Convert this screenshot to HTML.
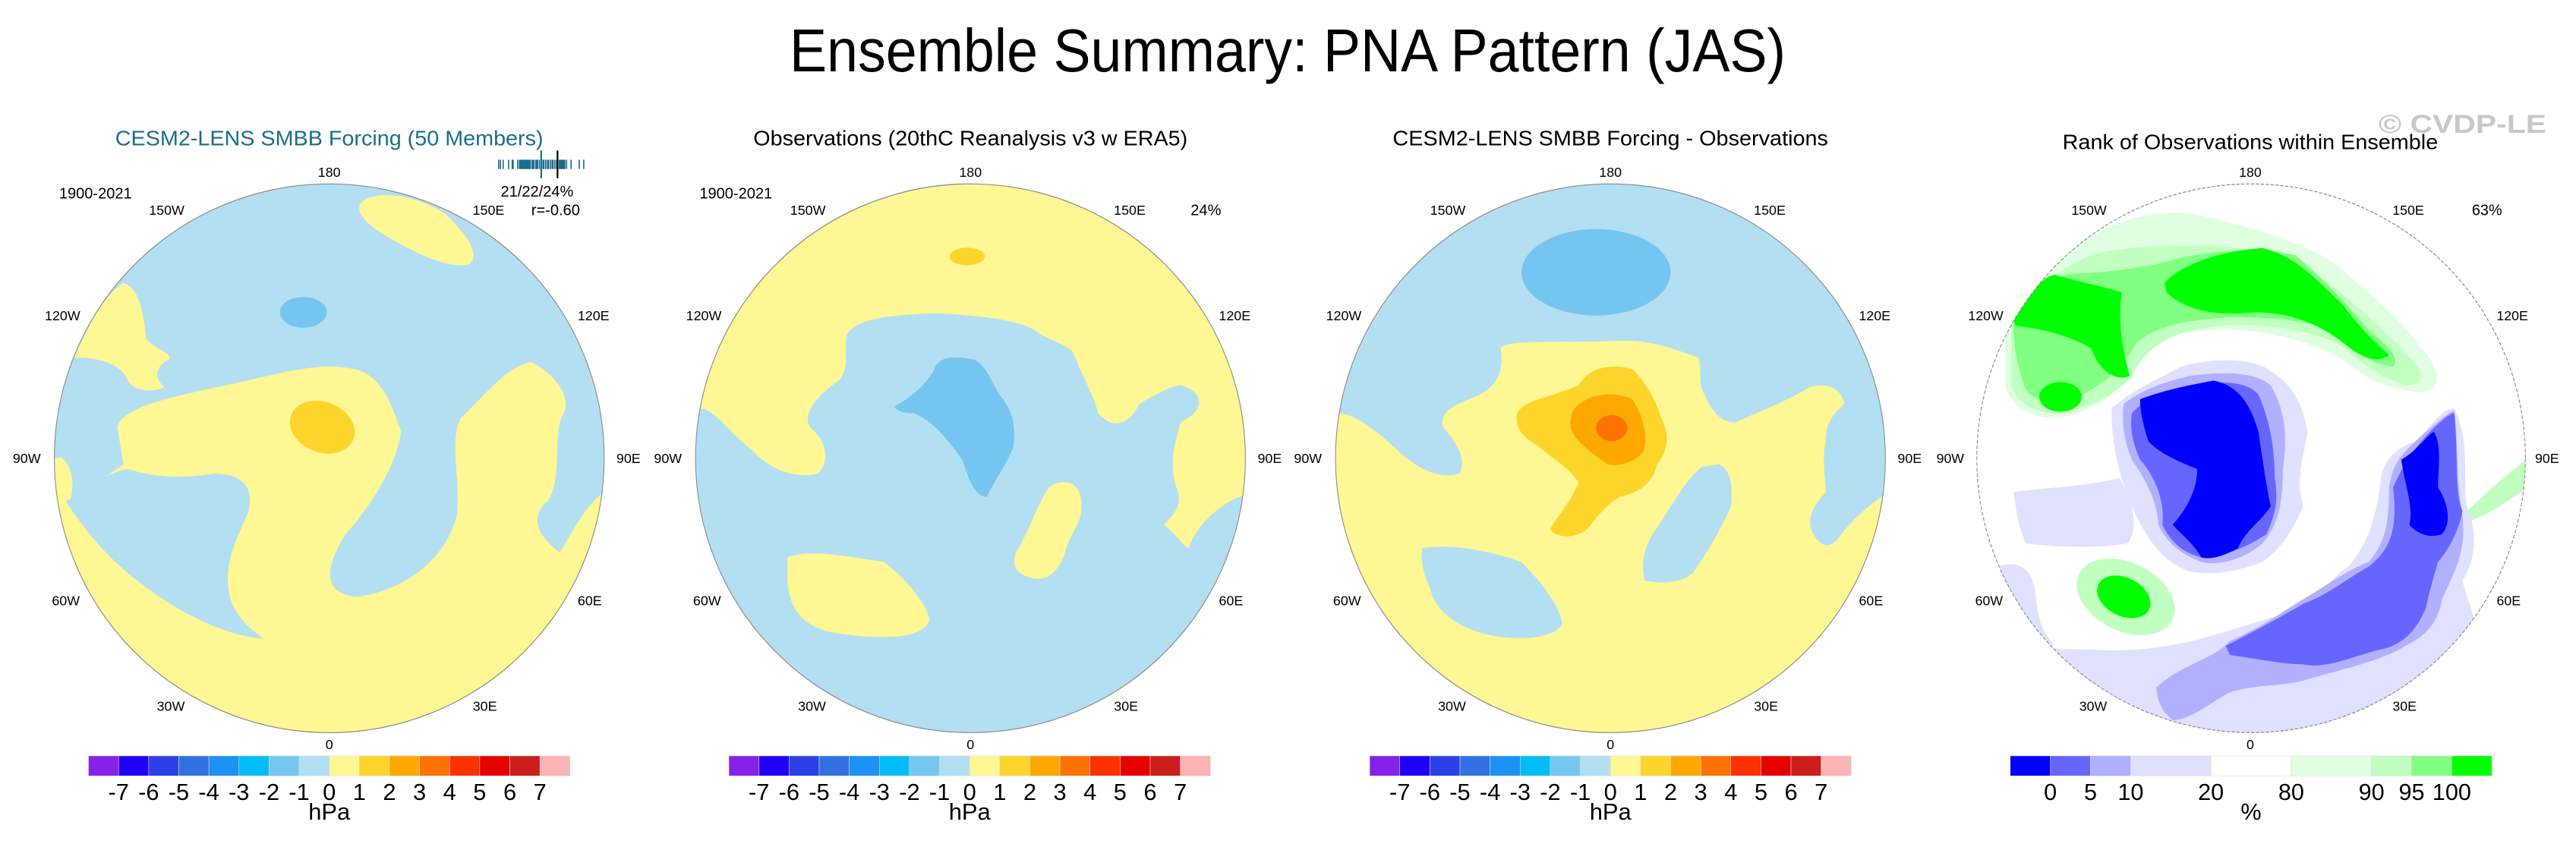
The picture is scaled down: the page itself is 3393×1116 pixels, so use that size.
<!DOCTYPE html>
<html><head><meta charset="utf-8"><style>
html,body{margin:0;padding:0;background:#fff;width:3393px;height:1116px;overflow:hidden;}
svg{display:block;font-family:"Liberation Sans",Arial,sans-serif;}
</style></head><body>
<svg id="fig" width="3393" height="1116" viewBox="0 0 3393 1116" xmlns="http://www.w3.org/2000/svg">
<text x="1696" y="94" font-size="80" text-anchor="middle" textLength="1312" lengthAdjust="spacingAndGlyphs">Ensemble Summary: PNA Pattern (JAS)</text>
<text x="3133" y="175" font-size="34" font-weight="bold" fill="#c8c8c8" textLength="221" lengthAdjust="spacingAndGlyphs">© CVDP-LE</text>
<defs>
<clipPath id="c1"><ellipse cx="800" cy="757" rx="668" ry="590"/></clipPath>
<clipPath id="c2"><ellipse cx="790" cy="757" rx="668" ry="590"/></clipPath>
<clipPath id="c3"><ellipse cx="777" cy="757" rx="668" ry="590"/></clipPath>
<clipPath id="c4"><ellipse cx="772" cy="757" rx="672" ry="590"/></clipPath>
</defs>

<!-- Panel 1 -->
<g id="p1" transform="translate(0,140) scale(0.5421,0.6127)">
 <g clip-path="url(#c1)">
  <rect x="100" y="150" width="1380" height="1220" fill="#b3dff2"/>
  <path fill="#fef793" d="M875,210 C900,180 1000,185 1080,230 C1130,270 1170,320 1140,340 C1090,350 1020,320 950,285 C890,255 865,230 875,210 Z"/>
  <path fill="#fef793" d="M180,540 C220,460 260,400 300,380 C340,390 350,450 355,500 C380,525 420,530 410,545 C380,560 370,580 400,605 C370,615 330,615 310,590 C300,560 250,540 180,540 Z"/>
  <path fill="#fef793" d="M285,690 C300,640 450,620 600,590 C700,570 780,550 860,565 C930,580 950,640 975,700 C960,780 900,860 840,920 C790,990 780,1050 870,1055 C980,1040 1080,980 1110,880 C1120,800 1090,720 1120,670 C1180,620 1230,560 1290,550 C1340,570 1390,620 1370,660 C1340,700 1370,800 1330,850 C1290,880 1300,920 1360,960 C1400,900 1430,850 1470,830 L1480,830 L1480,1360 L100,1360 L100,760 L150,755 C180,780 180,820 170,850 L300,770 Z"/>
  <path fill="#b3dff2" d="M160,850 C200,830 250,790 310,780 C380,800 450,800 520,790 C600,790 620,830 600,880 C570,940 540,990 560,1060 C580,1110 620,1130 640,1145 C560,1140 460,1100 380,1050 C280,990 220,930 160,850 Z"/>
  <ellipse cx="783" cy="690" rx="80" ry="55" transform="rotate(15 783 690)" fill="#fdd42a"/>
  <ellipse cx="737" cy="443" rx="57" ry="33" fill="#74c6f0"/>
 </g>
 <ellipse cx="800" cy="757" rx="668" ry="590" fill="none" stroke="#8a8a8a" stroke-width="2"/>
 <text x="800" y="84" font-size="51" fill="#1b6d8e" text-anchor="middle" textLength="1040" lengthAdjust="spacingAndGlyphs">CESM2-LENS SMBB Forcing (50 Members)</text>
 <text x="232" y="198" font-size="37" text-anchor="middle">1900-2021</text>
 <text x="1305" y="194" font-size="37" text-anchor="middle">21/22/24%</text>
 <text x="1350" y="234" font-size="37" text-anchor="middle">r=-0.60</text>
 <g id="strip"></g>
</g>

<!-- Panel 2 -->
<g id="p2" transform="translate(850,140) scale(0.5421,0.6127)">
 <g clip-path="url(#c2)">
  <rect x="100" y="150" width="1380" height="1220" fill="#fef793"/>
  <path fill="#b3dff2" d="M130,650 C170,650 200,700 260,740 C310,790 380,800 420,790 C450,760 440,720 400,690 C380,660 420,620 470,590 C500,560 480,520 490,490 C520,450 620,450 700,445 C820,450 920,460 960,490 C1000,510 1020,510 1040,530 C1060,580 1090,620 1100,660 C1140,700 1180,680 1200,640 C1240,620 1280,600 1300,600 C1350,610 1370,650 1300,680 C1290,720 1270,760 1290,820 C1310,860 1280,880 1260,900 C1290,920 1310,950 1320,950 C1340,900 1400,850 1460,835 L1480,835 L1480,1360 L100,1360 L100,650 Z"/>
  <path fill="#fef793" d="M345,970 C400,950 500,970 580,980 C640,1020 690,1080 690,1105 C680,1140 600,1150 480,1135 C380,1125 350,1080 345,1020 Z"/>
  <path fill="#fef793" d="M980,820 C1010,800 1060,800 1060,860 C1060,900 1030,920 1020,960 C1000,1010 970,1020 940,1015 C900,1005 890,990 900,960 C930,920 950,860 980,820 Z"/>
  <path fill="#74c6f0" d="M605,645 C640,630 680,600 700,570 C710,540 740,535 800,545 C830,560 840,590 860,620 C890,650 900,680 895,730 C880,770 850,800 830,840 C800,840 785,800 770,760 C730,710 690,670 650,660 C620,660 605,650 605,645 Z"/>
  <ellipse cx="782" cy="323" rx="43" ry="19" fill="#fdd42a"/>
 </g>
 <ellipse cx="790" cy="757" rx="668" ry="590" fill="none" stroke="#8a8a8a" stroke-width="2"/>
 <text x="790" y="84" font-size="51" text-anchor="middle" textLength="1055" lengthAdjust="spacingAndGlyphs">Observations (20thC Reanalysis v3 w ERA5)</text>
 <text x="220" y="198" font-size="37" text-anchor="middle">1900-2021</text>
 <text x="1362" y="234" font-size="37" text-anchor="middle">24%</text>
</g>

<!-- Panel 3 -->
<g id="p3" transform="translate(1700,140) scale(0.5421,0.6127)">
 <g clip-path="url(#c3)">
  <rect x="100" y="150" width="1380" height="1220" fill="#b3dff2"/>
  <path fill="#fef793" d="M115,660 C150,660 200,690 260,740 C320,790 370,800 410,790 C430,760 400,720 370,690 C360,650 410,640 460,620 C500,600 520,570 510,520 C530,500 650,510 780,505 C880,500 920,520 990,540 C1000,560 990,590 1000,610 C1020,650 1040,680 1080,680 C1130,660 1190,640 1250,610 C1280,590 1340,600 1345,640 C1320,660 1300,680 1300,720 C1290,760 1300,800 1300,830 C1270,860 1250,890 1270,920 C1290,950 1310,950 1330,930 C1370,880 1420,850 1450,830 L1480,830 L1480,1360 L100,1360 L100,660 Z"/>
  <path fill="#b3dff2" d="M320,950 C400,940 500,960 560,980 C620,1030 660,1090 660,1115 C640,1140 580,1150 500,1140 C400,1125 350,1080 340,1040 C320,1000 315,970 320,950 Z"/>
  <path fill="#b3dff2" d="M1040,770 C1070,780 1075,820 1070,860 C1050,900 1020,950 980,1000 C960,1020 920,1030 860,1020 C850,980 860,950 880,920 C920,870 960,800 1000,775 Z"/>
  <ellipse cx="742" cy="357" rx="181" ry="93" fill="#74c6f0"/>
  <path fill="#fdd42a" d="M550,660 C570,630 620,630 700,600 C720,570 760,550 830,565 C870,600 890,640 900,670 C920,700 920,740 890,770 C880,810 850,830 800,840 C760,860 740,890 720,910 C690,930 650,930 630,910 C650,880 680,850 700,810 C680,780 640,760 600,730 C560,710 545,690 550,660 Z"/>
  <path fill="#fda800" d="M690,650 C720,620 780,610 830,630 C860,670 870,720 855,745 C830,770 790,775 770,770 C730,745 690,720 680,690 C678,670 685,655 690,650 Z"/>
  <ellipse cx="780" cy="692" rx="38" ry="28" fill="#fd7200"/>
 </g>
 <ellipse cx="777" cy="757" rx="668" ry="590" fill="none" stroke="#8a8a8a" stroke-width="2"/>
 <text x="777" y="84" font-size="51" text-anchor="middle" textLength="1058" lengthAdjust="spacingAndGlyphs">CESM2-LENS SMBB Forcing - Observations</text>
</g>

<!-- Panel 4 -->
<g id="p4" transform="translate(2550,140) scale(0.5376,0.6127)">
 <g clip-path="url(#c4)">
  <rect x="90" y="150" width="1370" height="1220" fill="#ffffff"/>
  <path fill="#e0ffe0" d="M170,470 C220,380 300,320 400,270 C480,235 560,220 650,235 C750,255 900,290 980,340 C1060,400 1130,450 1190,520 C1240,570 1240,610 1190,615 C1120,612 1060,590 1020,560 C940,505 800,480 700,480 C600,485 520,490 480,560 C450,620 380,660 300,670 C220,672 180,640 170,600 Z"/>
  <path fill="#c0ffc0" d="M185,470 C230,400 300,350 380,320 C470,300 560,300 650,300 C780,300 900,330 990,400 C1060,450 1120,500 1170,550 C1200,580 1190,600 1150,600 C1080,580 1040,550 1000,520 C930,480 820,470 720,470 C620,480 530,490 480,580 C440,620 380,650 300,660 C240,660 200,640 185,600 Z"/>
  <path fill="#80ff80" d="M190,470 C230,410 280,370 330,360 C400,360 470,350 540,340 C650,310 780,300 880,320 C950,370 1010,430 1060,480 C1100,510 1140,540 1120,560 C1060,555 1020,520 990,490 C920,460 800,450 700,455 C620,460 540,470 490,510 C460,560 420,590 360,620 C300,640 250,640 220,610 C200,560 190,520 190,470 Z"/>
  <path fill="#00ff00" d="M560,380 C600,340 700,310 800,305 C880,320 940,380 1000,430 C1040,480 1080,510 1110,535 C1080,555 1040,540 1000,510 C940,470 860,435 750,445 C660,450 600,430 565,400 Z"/>
  <path fill="#00ff00" d="M190,460 C220,420 250,370 290,362 C350,378 420,390 455,400 C445,460 455,520 475,580 C440,592 400,570 380,520 C340,500 280,480 195,472 Z"/>
  <ellipse cx="305" cy="625" rx="52" ry="32" fill="#00ff00"/>
  <ellipse cx="465" cy="1055" rx="125" ry="75" transform="rotate(20 465 1055)" fill="#c0ffc0"/>
  <ellipse cx="460" cy="1055" rx="68" ry="42" transform="rotate(20 460 1055)" fill="#00ff00"/>
  <path fill="#c0ffc0" d="M1290,880 C1350,830 1400,790 1445,760 L1450,820 C1400,850 1350,880 1300,895 Z"/>
  <path fill="#e0e0ff" d="M430,1170 C600,1170 700,1130 820,1100 C920,1080 970,1010 1010,990 C1060,940 1080,880 1090,800 C1100,750 1140,730 1180,720 C1220,680 1240,650 1270,650 C1310,720 1290,800 1300,860 C1330,920 1320,980 1290,1020 C1300,1060 1320,1090 1320,1120 L1460,1120 L1460,1360 L90,1360 L90,1160 Z"/>
  <path fill="#e0e0ff" d="M150,990 C200,975 240,990 245,1060 C250,1100 260,1130 290,1160 L120,1160 Z"/>
  <path fill="#e0e0ff" d="M190,830 C260,820 350,820 450,800 C480,850 500,900 470,940 C400,950 320,950 220,940 C200,900 195,860 190,830 Z"/>
  <path fill="#b0b0ff" d="M540,1250 C600,1200 680,1190 720,1150 C800,1120 860,1080 900,1060 C960,1030 1000,1000 1060,980 C1100,940 1110,900 1110,820 C1120,760 1150,740 1200,700 C1230,680 1250,660 1270,655 C1280,720 1275,820 1290,880 C1300,960 1270,1000 1240,1060 C1230,1110 1200,1140 1150,1160 C1100,1190 1000,1210 920,1230 C850,1250 800,1240 720,1260 C660,1290 620,1320 580,1320 C550,1300 540,1270 540,1250 Z"/>
  <path fill="#6666ff" d="M710,1160 C780,1130 860,1090 900,1070 C960,1050 1000,1020 1060,990 C1120,950 1130,900 1120,820 C1140,780 1160,750 1190,720 C1230,680 1260,660 1270,660 C1280,760 1270,830 1290,870 C1280,920 1250,960 1230,980 C1220,1010 1210,1040 1200,1080 C1180,1120 1150,1160 1080,1170 C1000,1190 950,1210 900,1200 C850,1200 800,1190 720,1180 Z"/>
  <path fill="#0000ff" d="M1140,760 C1180,740 1200,710 1220,700 C1240,730 1230,780 1230,820 C1260,860 1260,900 1240,920 C1210,930 1180,920 1160,900 C1170,860 1150,820 1140,760 Z"/>
  <path fill="#e0e0ff" d="M430,650 C480,610 560,580 600,560 C680,540 780,540 820,570 C880,600 900,650 910,700 C900,760 880,800 900,860 C880,900 850,950 800,980 C740,1000 680,1010 620,1000 C560,980 520,940 480,860 C450,800 430,730 430,650 Z"/>
  <path fill="#b0b0ff" d="M460,640 C520,600 580,590 620,580 C700,570 780,570 820,600 C860,660 860,720 850,780 C850,850 840,900 800,940 C760,970 700,990 650,980 C590,960 560,930 545,900 C540,840 510,800 480,760 C460,720 455,680 460,640 Z"/>
  <path fill="#6666ff" d="M480,660 C520,620 580,610 620,600 C700,590 760,590 790,620 C820,680 830,740 830,800 C840,850 830,880 810,920 C760,950 700,970 650,970 C600,960 570,930 555,900 C560,850 540,800 500,760 C480,720 475,690 480,660 Z"/>
  <path fill="#0000ff" d="M500,630 C560,610 620,600 680,590 C740,600 770,640 790,700 C800,760 810,820 820,860 C800,890 760,910 740,950 C700,970 670,975 650,970 C630,940 600,920 580,900 C620,860 640,820 640,780 C580,760 540,740 520,720 C510,690 500,660 500,630 Z"/>
 </g>
 <ellipse cx="772" cy="757" rx="672" ry="590" fill="none" stroke="#8a8a8a" stroke-width="2" stroke-dasharray="8 4"/>
 <text x="770" y="92" font-size="51" text-anchor="middle" textLength="920" lengthAdjust="spacingAndGlyphs">Rank of Observations within Ensemble</text>
 <text x="1350" y="234" font-size="37" text-anchor="middle">63%</text>
</g>
<g id="overlay"></g>
</svg>
<script>
// ---- data ----
const hpaLevels = [-7,-6,-5,-4,-3,-2,-1,0,1,2,3,4,5,6,7];
const hpaColors = ["#8521e8","#1f00fa","#2b40e6","#3170e0","#1c92f5","#00bcf8","#76c7ef","#b3dff2","#fef793","#fdd42a","#fda800","#fd7200","#fd3000","#e60000","#cc1c1c","#fcb3b3"];
const rankLevels = [0,5,10,20,80,90,95,100];
const rankColors = ["#0000ff","#6666ff","#b0b0ff","#e0e0ff","#ffffff","#e0ffe0","#c0ffc0","#80ff80","#00ff00"];
const degLabels = ["180","150W","150E","120W","120E","90W","90E","60W","60E","30W","30E","0"];
const memberValues = [3,5,8,14,18,19,24,26,27,28,29,30,31,32,33,34,35,36,37,38,40,41,42,44,45,46,48,50,52,53,55,57,58,60,62,63,65,67,68,70,71,72,73,74,75,76,78,83,92,97];
const memberMarkers = [50,68];

const NS="http://www.w3.org/2000/svg";
function mk(tag, attrs, parent){const e=document.createElementNS(NS,tag);for(const k in attrs)e.setAttribute(k,attrs[k]);parent.appendChild(e);return e;}

const degOff = {"180":[0,152],"150W":[-395,233],"150E":[387,233],"120W":[-648,460],"120E":[642,460],"90W":[-735,767],"90E":[727,767],"60W":[-640,1073],"60E":[633,1073],"30W":[-385,1300],"30E":[378,1300],"0":[0,1382]};
const panels=[{id:"p1",cx:800,bar:[215,1385],ox:0,sx:0.5421},{id:"p2",cx:790,bar:[203,1373],ox:850,sx:0.5421},{id:"p3",cx:777,bar:[192,1362],ox:1700,sx:0.5421},{id:"p4",cx:770,bar:[182,1362],ox:2550,sx:0.5376}];

panels.forEach((p,pi)=>{
  const g=document.getElementById(p.id);
  degLabels.forEach(lb=>{
    const o=degOff[lb];
    const t=mk("text",{x:p.cx+o[0],y:o[1],"font-size":33,"text-anchor":"middle"},g);
    
    
    t.textContent=lb;
  });
  const cb=mk("g",{},g);
  
  
  const x0=p.bar[0], x1=p.bar[1], y0=1397, h=43;
  if(pi<3){
    const n=hpaColors.length, w=(x1-x0)/n;
    const xs=i=>x0+i*w;
    hpaColors.forEach((c,i)=>{
      const r=mk("rect",{x:xs(i),y:y0,width:w,height:h,fill:c,stroke:"#ddd","stroke-width":1},cb);
      
      
    });
    hpaLevels.forEach((v,i)=>{
      const t=mk("text",{x:xs(i+1),y:1492,"font-size":57,"text-anchor":"middle"},cb);
      
      
      t.textContent=String(v);
    });
    const u=mk("text",{x:(x0+x1)/2,y:1534,"font-size":57,"text-anchor":"middle"},cb);
    
    
    u.textContent="hPa";
  } else {
    const weights=[1,1,1,2,2,2,1,1,1];
    const tot=weights.reduce((a,b)=>a+b,0), unit=(x1-x0)/tot;
    let acc=[x0];weights.forEach(wt=>acc.push(acc[acc.length-1]+wt*unit));
    rankColors.forEach((c,i)=>{
      const r=mk("rect",{x:acc[i],y:y0,width:acc[i+1]-acc[i],height:h,fill:c,stroke:"#ddd","stroke-width":1},cb);
      
      
    });
    rankLevels.forEach((v,i)=>{
      const t=mk("text",{x:acc[i+1],y:1492,"font-size":57,"text-anchor":"middle"},cb);
      
      
      t.textContent=String(v);
    });
    const u=mk("text",{x:(x0+x1)/2,y:1534,"font-size":57,"text-anchor":"middle"},cb);
    
    
    u.textContent="%";
  }
});

// member strip (panel 1)
const strip=document.getElementById("strip");
const stx=v=>1205+v*(1425-1205)/100;
memberValues.forEach(v=>{
  const l=mk("line",{x1:stx(v),x2:stx(v),y1:115,y2:135,stroke:"#1b6d8e","stroke-width":3},strip);
  
  
});
memberMarkers.forEach((v,i)=>{
  const l=mk("line",{x1:stx(v),x2:stx(v),y1:95,y2:155,stroke:i?"#000":"#1b6d8e","stroke-width":4},strip);
  
  
});

// move text out of the anisotropic panel transforms so glyphs are not stretched
const overlay=document.getElementById("overlay");
const SY=0.6127;
panels.forEach(p=>{
  const g=document.getElementById(p.id);
  Array.from(g.querySelectorAll("text")).forEach(t=>{
    const x=parseFloat(t.getAttribute("x")), y=parseFloat(t.getAttribute("y"));
    t.setAttribute("x", p.ox + x*p.sx);
    t.setAttribute("y", 140 + y*SY);
    t.setAttribute("font-size", parseFloat(t.getAttribute("font-size"))*p.sx);
    if(t.hasAttribute("textLength")) t.setAttribute("textLength", parseFloat(t.getAttribute("textLength"))*p.sx);
    overlay.appendChild(t);
  });
});
</script>
</body></html>
